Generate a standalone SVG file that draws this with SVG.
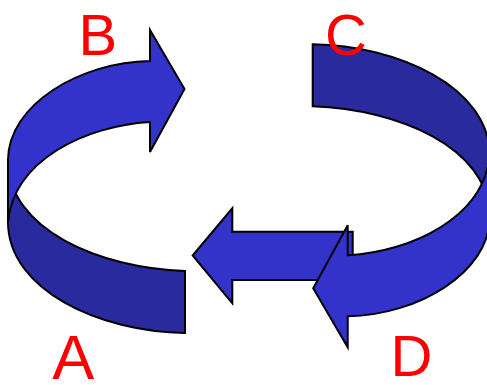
<svg xmlns="http://www.w3.org/2000/svg" width="487" height="385" viewBox="0 0 487 385">
  <style>
    .light { fill: #3333CC; stroke: #000; stroke-width: 2; stroke-linejoin: miter; }
    .dark { fill: #2A2A9F; stroke: #000; stroke-width: 2; stroke-linejoin: miter; }
    .lbl { fill: #FF0000; font-family: "Liberation Sans", Arial, sans-serif; }
  </style>
  <rect width="487" height="385" fill="#fff"/>
  <g id="connectors">
    <g id="arrow-middle">
      <path class="light" d="M192.7,255.5 L232.3,208.3 L232.3,231.7 L352.7,231.7 L352.7,280 L232.3,280 L232.3,303.3 Z"/>
    </g>
    <g id="arrow-left">
      <path class="dark" d="M8,160 C8,230 100,268 185,271 L185,333 C100,332 8,290 8,222 Z"/>
      <path class="light" d="M150,61 L150,30 L184.5,89 L150,152 L150,122 C85,126 14,160 8,222 L8,160 C8,105 80,62 150,61 Z"/>
    </g>
    <g id="arrow-right" transform="rotate(180 248.85 188.65)">
      <path class="dark" d="M8,160 C8,230 100,268 185,271 L185,333 C100,332 8,290 8,222 Z"/>
      <path class="light" d="M150,61 L150,30 L184.5,89 L150,152 L150,122 C85,126 14,160 8,222 L8,160 C8,105 80,62 150,61 Z"/>
    </g>
  </g>
  <g id="label-B"><text class="lbl" x="78.5" y="55" font-size="58">B</text></g>
  <g id="label-C"><text class="lbl" x="325" y="54.5" font-size="58">C</text></g>
  <g id="label-A"><text class="lbl" x="52.3" y="379" font-size="63">A</text></g>
  <g id="label-D"><text class="lbl" x="390.6" y="376" font-size="58">D</text></g>
</svg>
